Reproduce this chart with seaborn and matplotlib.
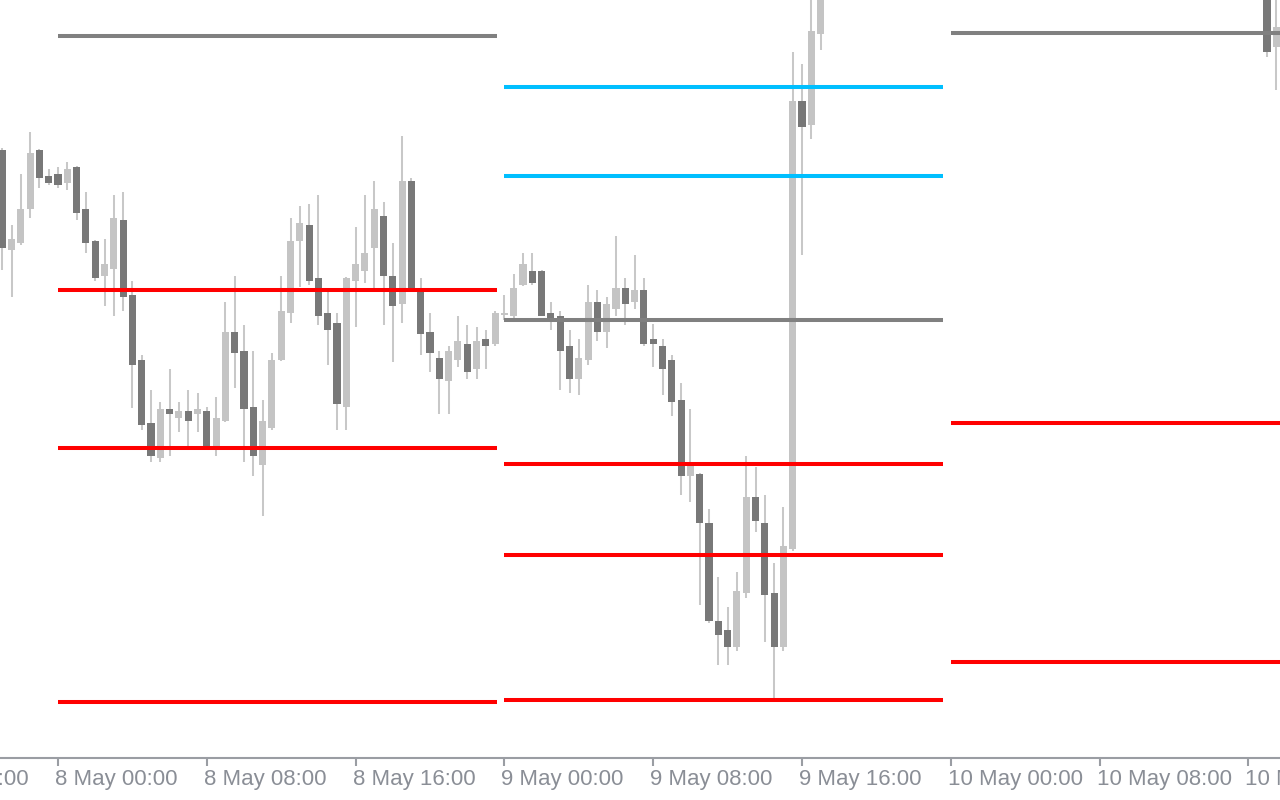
import numpy as np
import pandas as pd
import matplotlib
matplotlib.use("Agg")
import matplotlib.pyplot as plt
import seaborn as sns
from matplotlib.transforms import ScaledTranslation

# ------------------ #
# 30 min candles     #
# ------------------ #
times = list(pd.date_range("2024-05-07 21:00", "2024-05-09 17:00", freq="30min")) + \
    list(pd.to_datetime(["2024-05-10 17:00", "2024-05-10 17:30"]))

opens = [
    2332.50, 2327.50, 2327.85, 2329.55, 2332.50, 2331.20, 2331.30, 2330.85, 2331.65, 2329.55,
    2327.95, 2326.20, 2326.55, 2329.00, 2325.25, 2322.00, 2318.85, 2317.10, 2319.55, 2319.10,
    2319.45, 2319.30, 2319.45, 2317.65, 2318.95, 2323.40, 2322.45, 2319.65, 2316.75, 2318.60,
    2322.00, 2324.35, 2327.95, 2328.75, 2326.10, 2324.35, 2323.85, 2319.65, 2325.95, 2326.45,
    2327.60, 2329.20, 2326.20, 2324.80, 2330.95, 2325.45, 2323.40, 2322.10, 2320.95, 2322.00,
    2322.80, 2321.55, 2323.05, 2322.80, 2324.25, 2324.20, 2325.75, 2326.45, 2326.45, 2324.35,
    2324.20, 2322.70, 2321.05, 2322.00, 2324.90, 2323.40, 2324.55, 2325.60, 2324.90, 2325.50,
    2323.05, 2322.70, 2322.00, 2320.00, 2316.20, 2316.30, 2313.85, 2308.95, 2308.50, 2307.65,
    2310.35, 2315.15, 2313.85, 2310.35, 2307.65, 2312.55, 2334.95, 2333.75, 2338.30,
    2342.00, 2337.65,
]
highs = [
    2332.60, 2328.75, 2331.30, 2333.40, 2332.55, 2331.55, 2331.65, 2331.90, 2331.70, 2330.40,
    2328.00, 2328.05, 2330.25, 2330.40, 2325.95, 2322.25, 2320.50, 2319.90, 2321.55, 2319.90,
    2320.50, 2320.35, 2319.65, 2320.15, 2324.90, 2326.20, 2323.75, 2322.45, 2320.00, 2322.35,
    2326.20, 2329.10, 2329.70, 2329.80, 2330.25, 2325.40, 2324.35, 2326.15, 2328.65, 2330.25,
    2330.95, 2329.90, 2327.85, 2333.20, 2331.10, 2326.10, 2324.35, 2322.45, 2322.70, 2324.20,
    2323.75, 2323.65, 2323.50, 2324.45, 2325.25, 2326.30, 2327.35, 2327.35, 2326.50, 2324.90,
    2324.45, 2323.50, 2323.05, 2325.75, 2325.50, 2325.15, 2328.20, 2326.10, 2327.25, 2326.10,
    2323.80, 2323.05, 2322.25, 2320.85, 2319.55, 2316.35, 2314.55, 2311.15, 2309.65, 2311.40,
    2317.20, 2316.65, 2315.25, 2311.85, 2314.65, 2337.40, 2336.80, 2340.50, 2343.00,
    2343.00, 2341.50,
]
lows = [
    2326.50, 2325.15, 2327.75, 2329.10, 2330.60, 2330.75, 2330.60, 2330.50, 2329.00, 2327.35,
    2325.95, 2324.70, 2324.20, 2324.45, 2319.60, 2318.50, 2316.90, 2316.90, 2317.20, 2318.40,
    2317.65, 2318.40, 2317.60, 2317.20, 2318.90, 2320.60, 2316.90, 2316.20, 2314.20, 2318.50,
    2321.95, 2323.85, 2325.65, 2325.75, 2323.75, 2321.75, 2318.50, 2318.50, 2323.65, 2325.85,
    2325.60, 2323.75, 2321.90, 2323.85, 2325.50, 2322.25, 2321.40, 2319.30, 2319.30, 2321.65,
    2321.05, 2321.05, 2321.55, 2322.70, 2324.00, 2324.00, 2325.70, 2325.75, 2324.20, 2323.50,
    2320.50, 2320.35, 2320.25, 2321.75, 2322.95, 2322.60, 2324.20, 2323.75, 2324.55, 2322.70,
    2321.65, 2320.25, 2319.20, 2315.25, 2314.90, 2309.75, 2308.85, 2306.75, 2306.75, 2307.45,
    2310.10, 2313.40, 2307.90, 2305.10, 2307.45, 2312.45, 2327.25, 2333.05, 2337.50,
    2337.15, 2335.50,
]
closes = [
    2327.60, 2328.05, 2329.55, 2332.35, 2331.10, 2330.85, 2330.75, 2331.55, 2329.35, 2327.85,
    2326.10, 2326.80, 2329.10, 2325.15, 2321.75, 2318.75, 2317.20, 2319.55, 2319.30, 2319.45,
    2318.95, 2319.55, 2317.65, 2319.10, 2323.40, 2322.35, 2319.55, 2317.20, 2318.95, 2322.00,
    2324.45, 2327.95, 2328.85, 2325.95, 2324.20, 2323.50, 2319.80, 2326.10, 2326.80, 2327.35,
    2329.55, 2326.20, 2324.70, 2330.95, 2325.60, 2323.30, 2322.35, 2321.05, 2322.45, 2322.95,
    2321.40, 2322.95, 2322.70, 2324.35, 2324.35, 2325.60, 2326.80, 2325.85, 2324.20, 2324.10,
    2322.45, 2321.05, 2322.10, 2324.90, 2323.40, 2324.80, 2325.60, 2324.80, 2325.50, 2322.80,
    2322.80, 2321.55, 2319.90, 2316.20, 2316.75, 2313.85, 2308.95, 2308.25, 2307.65, 2310.45,
    2315.15, 2313.95, 2310.25, 2307.65, 2312.70, 2334.95, 2333.65, 2338.45, 2342.00,
    2337.40, 2338.65,
]

# ------------------ #
# daily levels       #
# ------------------ #
level_day = ["2024-05-08"] * 4 + ["2024-05-09"] * 6 + ["2024-05-10"] * 3
level_kind = ["pivot", "support", "support", "support",
              "resistance", "resistance", "pivot", "support", "support", "support",
              "pivot", "support", "support"]
level_price = [2338.20, 2325.50, 2317.60, 2304.90,
               2335.65, 2331.20, 2324.00, 2316.80, 2312.25, 2305.00,
               2338.35, 2318.85, 2306.90]

tick_labels = ["7 May 16:00", "8 May 00:00", "8 May 08:00", "8 May 16:00",
               "9 May 00:00", "9 May 08:00", "9 May 16:00",
               "10 May 00:00", "10 May 08:00", "10 May 16:00"]
tick_times = pd.date_range("2024-05-07 16:00", periods=len(tick_labels), freq="8h")

# ------------------ #
# building frames    #
# ------------------ #
t0 = pd.Timestamp("2024-05-08 00:00")
hour = pd.Timedelta(hours=1)

candles = pd.DataFrame({"time": times, "open": opens, "high": highs,
                        "low": lows, "close": closes})
candles["h"] = (candles["time"] - t0) / hour
candles["bull"] = candles["close"] >= candles["open"]
candles["bottom"] = candles[["open", "close"]].min(axis=1)
candles["size"] = (candles["close"] - candles["open"]).abs().clip(lower=0.06)

rows = []
for j, (day, kind, price) in enumerate(zip(level_day, level_kind, level_price)):
    start = (pd.Timestamp(day) - t0) / hour
    rows.append({"h": start, "price": price, "kind": kind, "id": j})
    rows.append({"h": start + 23.6, "price": price, "kind": kind, "id": j})
levels = pd.DataFrame(rows)

# ------------------ #
# plotting           #
# ------------------ #
sns.set_theme(style="white")
plt.rcParams["font.family"] = ["Liberation Sans", "DejaVu Sans"]

px_per_h = 18.6
fig = plt.figure(figsize=(12.8, 8), dpi=100)
ax = fig.add_axes([-100 / 1280, 42 / 800, 1380 / 1280, 758 / 800])

ax.vlines(candles["h"], candles["low"], candles["high"], color="#c8c8c8",
          linewidth=1.45, zorder=1)
ax.bar(candles["h"], candles["size"], bottom=candles["bottom"], width=0.38,
       color=np.where(candles["bull"], "#c4c4c4", "#787878"), linewidth=0, zorder=2)

sns.lineplot(data=levels, x="h", y="price", hue="kind", units="id", estimator=None,
             sort=False, palette={"pivot": "#808080", "support": "#ff0000",
                                  "resistance": "#00bfff"},
             linewidth=2.9, legend=False, ax=ax, zorder=3, solid_capstyle="butt")

ax.set_xlim((-100 - 58) / px_per_h, (1280 - 58) / px_per_h)
ax.set_ylim(2340 - 758 / 20, 2340)

ax.set_xticks((tick_times - t0) / hour)
ax.set_xticklabels(tick_labels)
ax.set_yticks([])
ax.set_xlabel("")
ax.set_ylabel("")

for side in ["top", "left", "right"]:
    ax.spines[side].set_visible(False)
ax.spines["bottom"].set_color("#9a9da3")
ax.spines["bottom"].set_linewidth(1.5)

ax.tick_params(axis="x", bottom=True, direction="out", length=6, width=1.5,
               color="#9a9da3", labelcolor="#8a8e96", labelsize=16, pad=2)
shift = ScaledTranslation(-3 / 100, 0, fig.dpi_scale_trans)
for lab in ax.get_xticklabels():
    lab.set_ha("left")
    lab.set_transform(lab.get_transform() + shift)

fig.savefig("out.png", dpi=100)
